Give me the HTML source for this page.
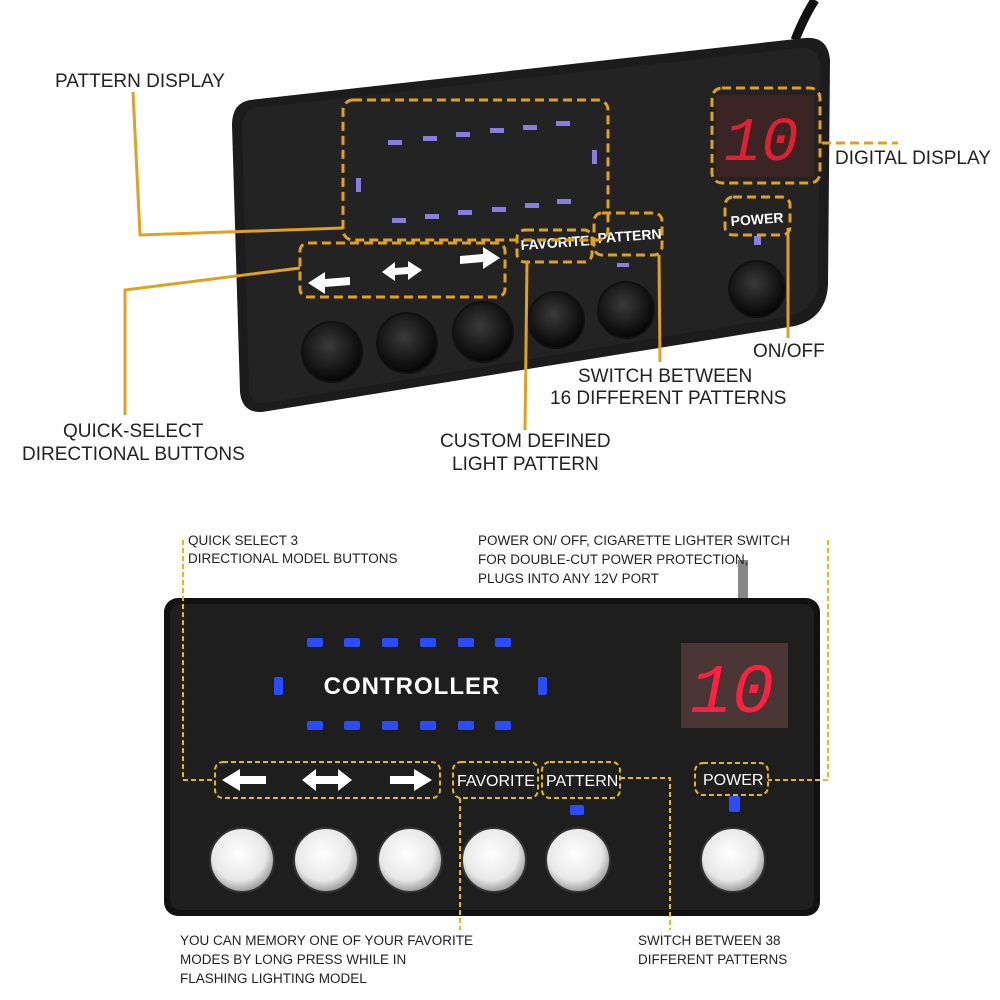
<!DOCTYPE html>
<html><head><style>
html,body{margin:0;padding:0;background:#fff;}
svg{display:block;}
.t{font-family:"Liberation Sans",sans-serif;fill:#222;}
</style></head><body>
<svg width="1000" height="1000" viewBox="0 0 1000 1000">
<defs>
<radialGradient id="btn" cx="45%" cy="40%" r="60%"><stop offset="0" stop-color="#3a3a3a"/><stop offset="1" stop-color="#050505"/></radialGradient>
<radialGradient id="wbtn" cx="45%" cy="40%" r="60%"><stop offset="0" stop-color="#ffffff"/><stop offset="0.7" stop-color="#e8e8e8"/><stop offset="1" stop-color="#9a9a9a"/></radialGradient>
</defs>
<!-- TOP DEVICE -->
<path d="M795,40 Q805,15 815,0" stroke="#111" stroke-width="9" fill="none"/>
<path d="M250,100 L805,38 Q828,36 830,60 L828,285 Q826,318 795,326 L262,412 Q242,413 240,392 L232,125 Q232,103 250,100 Z" fill="#1c1c1c"/>
<path d="M255,108 L800,48 Q818,47 820,64 L818,282 Q816,308 790,316 L265,403 Q250,404 249,388 L242,128 Q242,110 255,108 Z" fill="#232323"/>
<g fill="#8a7de0">
<rect x="388" y="140" width="14" height="5"/><rect x="423" y="136" width="14" height="5"/><rect x="456" y="132" width="14" height="5"/><rect x="490" y="128" width="14" height="5"/><rect x="523" y="125" width="14" height="5"/><rect x="556" y="121" width="14" height="5"/>
<rect x="392" y="218" width="14" height="5"/><rect x="425" y="214" width="14" height="5"/><rect x="458" y="210" width="14" height="5"/><rect x="492" y="207" width="14" height="5"/><rect x="525" y="203" width="14" height="5"/><rect x="557" y="199" width="14" height="5"/>
<rect x="356" y="178" width="5" height="14"/><rect x="592" y="150" width="5" height="14"/>
<rect x="754" y="236" width="7" height="9"/>
<rect x="617" y="263" width="12" height="4"/>
</g>
<rect x="716" y="95" width="98" height="82" fill="#3a2424"/>
<text x="724" y="160" font-family="Liberation Mono,monospace" font-size="62" font-style="italic" fill="#e02030">10</text>
<g fill="#fff">
<path d="M308,283 L325,272 L325,279 L350,277 L350,285 L325,287 L325,294 Z"/>
<path d="M382,272 L395,262 L395,268 L408,267 L408,261 L422,270 L408,280 L408,274 L395,275 L395,281 Z"/>
<path d="M500,258 L483,247 L483,254 L460,256 L460,264 L483,262 L483,269 Z"/>
</g>
<text x="521" y="250" font-family="Liberation Sans,sans-serif" font-size="14" font-weight="bold" fill="#fff" transform="rotate(-4 521 250)">FAVORITE</text>
<text x="598" y="243" font-family="Liberation Sans,sans-serif" font-size="14" font-weight="bold" fill="#fff" transform="rotate(-4 598 243)">PATTERN</text>
<text x="731" y="226" font-family="Liberation Sans,sans-serif" font-size="14" font-weight="bold" fill="#fff" transform="rotate(-4 731 226)">POWER</text>
<g fill="url(#btn)" stroke="#111" stroke-width="2">
<circle cx="332" cy="352" r="30"/><circle cx="407" cy="343" r="30"/><circle cx="483" cy="332" r="30"/><circle cx="556" cy="320" r="28"/><circle cx="626" cy="310" r="28"/><circle cx="757" cy="289" r="28"/>
</g>
<g fill="none" stroke="#e0a020" stroke-width="3" stroke-dasharray="9,5">
<rect x="343" y="100" width="265" height="140" rx="10"/>
<rect x="712" y="88" width="108" height="95" rx="10"/>
<rect x="725" y="197" width="65" height="38" rx="8"/>
<rect x="517" y="230" width="75" height="32" rx="8"/>
<rect x="594" y="213" width="68" height="42" rx="8"/>
<rect x="300" y="243" width="205" height="54" rx="8"/>
<line x1="822" y1="143" x2="898" y2="143"/>
</g>
<g fill="none" stroke="#e0a020" stroke-width="3">
<polyline points="133,92 140,235 343,228"/>
<polyline points="300,268 125,290 125,415"/>
<line x1="527" y1="262" x2="525" y2="430"/>
<line x1="659" y1="255" x2="660" y2="362"/>
<line x1="788" y1="228" x2="788" y2="338"/>
</g>
<g class="t" font-size="19">
<text x="55" y="87">PATTERN DISPLAY</text>
<text x="835" y="164">DIGITAL DISPLAY</text>
<text x="753" y="357">ON/OFF</text>
<text x="578" y="382">SWITCH BETWEEN</text>
<text x="550" y="404">16 DIFFERENT PATTERNS</text>
<text x="440" y="447">CUSTOM DEFINED</text>
<text x="452" y="470">LIGHT PATTERN</text>
<text x="63" y="437">QUICK-SELECT</text>
<text x="22" y="460">DIRECTIONAL BUTTONS</text>
</g>
<!-- BOTTOM DEVICE -->
<rect x="738" y="560" width="10" height="44" fill="#888"/>
<rect x="164" y="598" width="656" height="318" rx="14" fill="#111"/>
<rect x="170" y="604" width="644" height="306" rx="10" fill="#1e1e1e"/>
<g fill="#2a4cff">
<rect x="307" y="638" width="16" height="9" rx="2"/><rect x="344" y="638" width="16" height="9" rx="2"/><rect x="382" y="638" width="16" height="9" rx="2"/><rect x="420" y="638" width="16" height="9" rx="2"/><rect x="458" y="638" width="16" height="9" rx="2"/><rect x="495" y="638" width="16" height="9" rx="2"/>
<rect x="307" y="721" width="16" height="9" rx="2"/><rect x="344" y="721" width="16" height="9" rx="2"/><rect x="382" y="721" width="16" height="9" rx="2"/><rect x="420" y="721" width="16" height="9" rx="2"/><rect x="458" y="721" width="16" height="9" rx="2"/><rect x="495" y="721" width="16" height="9" rx="2"/>
<rect x="274" y="677" width="9" height="18" rx="2"/><rect x="538" y="677" width="9" height="18" rx="2"/>
<rect x="570" y="805" width="14" height="10" rx="2"/><rect x="729" y="796" width="11" height="16" rx="2"/>
</g>
<text x="412" y="694" text-anchor="middle" font-family="Liberation Sans,sans-serif" font-size="24" font-weight="bold" fill="#fff" letter-spacing="1">CONTROLLER</text>
<rect x="681" y="643" width="107" height="85" fill="#4a3535"/>
<text x="690" y="712" font-family="Liberation Mono,monospace" font-size="70" font-style="italic" fill="#ff2040">10</text>
<g fill="#fff">
<path d="M222,780 L240,769 L240,776 L266,776 L266,784 L240,784 L240,791 Z"/>
<path d="M302,780 L316,769 L316,776 L338,776 L338,769 L352,780 L338,791 L338,784 L316,784 L316,791 Z"/>
<path d="M432,780 L414,769 L414,776 L390,776 L390,784 L414,784 L414,791 Z"/>
</g>
<g font-family="Liberation Sans,sans-serif" font-size="16" fill="#fff">
<text x="457" y="786">FAVORITE</text>
<text x="546" y="786">PATTERN</text>
<text x="703" y="785">POWER</text>
</g>
<g fill="url(#wbtn)" stroke="#333" stroke-width="2">
<circle cx="242" cy="860" r="32"/><circle cx="326" cy="860" r="32"/><circle cx="410" cy="860" r="32"/><circle cx="494" cy="860" r="32"/><circle cx="578" cy="860" r="32"/><circle cx="733" cy="860" r="32"/>
</g>
<g fill="none" stroke="#e6b820" stroke-width="2" stroke-dasharray="5,3">
<rect x="215" y="762" width="225" height="36" rx="8"/>
<rect x="453" y="762" width="85" height="36" rx="8"/>
<rect x="542" y="762" width="78" height="36" rx="8"/>
<rect x="695" y="763" width="73" height="32" rx="8"/>
<polyline points="183,540 183,780 215,780"/>
<polyline points="828,540 828,780 768,780"/>
<polyline points="620,778 670,778 670,930"/>
<line x1="460" y1="798" x2="460" y2="930"/>
</g>
<g class="t" font-size="13.5">
<text x="188" y="545">QUICK SELECT 3</text>
<text x="188" y="563">DIRECTIONAL MODEL BUTTONS</text>
<text x="478" y="545">POWER ON/ OFF, CIGARETTE LIGHTER SWITCH</text>
<text x="478" y="564">FOR DOUBLE-CUT POWER PROTECTION,</text>
<text x="478" y="583">PLUGS INTO ANY 12V PORT</text>
<text x="180" y="945">YOU CAN MEMORY ONE OF YOUR FAVORITE</text>
<text x="180" y="964">MODES BY LONG PRESS WHILE IN</text>
<text x="180" y="983">FLASHING LIGHTING MODEL</text>
<text x="638" y="945">SWITCH BETWEEN 38</text>
<text x="638" y="964">DIFFERENT PATTERNS</text>
</g>
</svg>
</body></html>
